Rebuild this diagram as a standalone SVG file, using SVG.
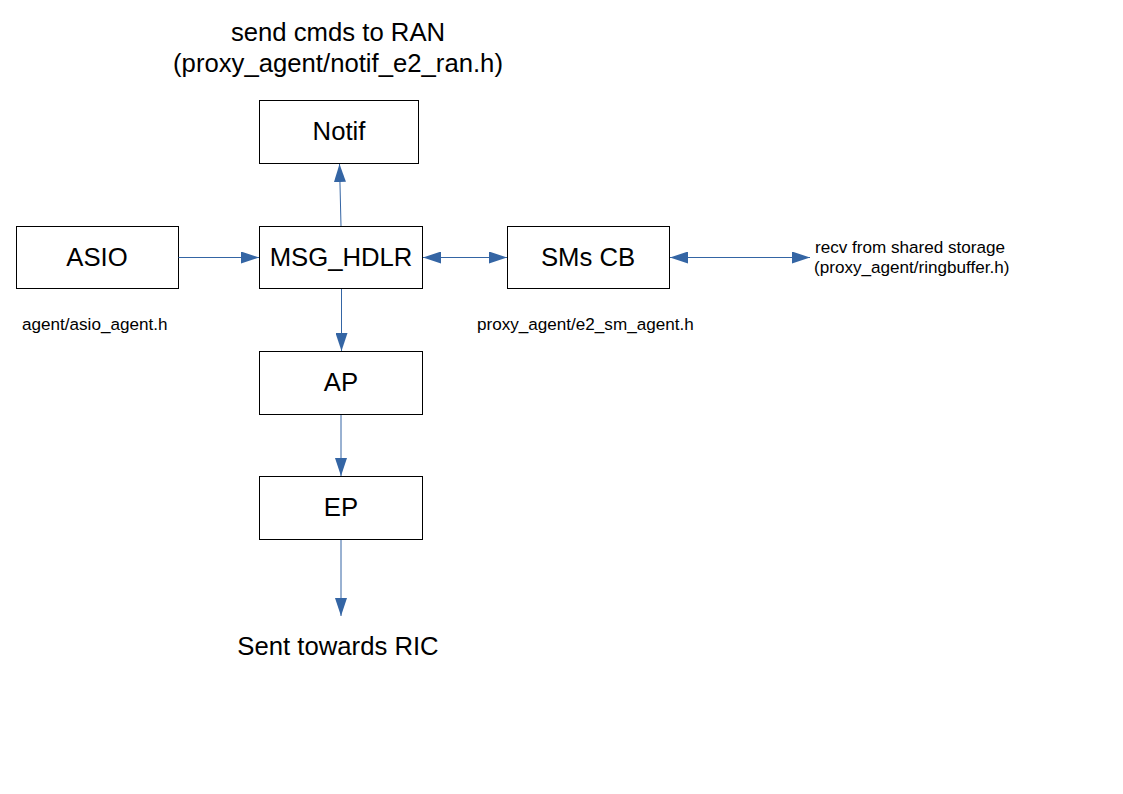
<svg xmlns="http://www.w3.org/2000/svg" width="1123" height="794" viewBox="0 0 1123 794">
<style>
.box{fill:#fff;stroke:#000;stroke-width:1}
.big{font-family:"Liberation Sans",Arial,sans-serif;font-size:25.7px;fill:#000;text-anchor:middle}
.small{font-family:"Liberation Sans",Arial,sans-serif;font-size:17.1px;fill:#000}
.con{stroke:#3465a4;stroke-width:1;fill:none}
</style>
<defs>
<marker id="ah" viewBox="0 0 18 12" refX="18" refY="6" markerWidth="18" markerHeight="12" markerUnits="userSpaceOnUse" orient="auto-start-reverse">
<path d="M0,0 L18,6 L0,12 Z" fill="#3465a4"/>
</marker>
</defs>
<rect width="1123" height="794" fill="#fff"/>
<g id="title">
<text class="big" x="338" y="41">send cmds to RAN</text>
<text class="big" x="338" y="72">(proxy_agent/notif_e2_ran.h)</text>
</g>
<g id="notif"><rect class="box" x="259.5" y="100.5" width="159" height="63"/><text class="big" x="339" y="140">Notif</text></g>
<g id="asio"><rect class="box" x="16.5" y="226.5" width="162" height="62"/><text class="big" x="97" y="266">ASIO</text></g>
<g id="msg_hdlr"><rect class="box" x="259.5" y="226.5" width="163" height="62"/><text class="big" x="341" y="266">MSG_HDLR</text></g>
<g id="smscb"><rect class="box" x="507.5" y="226.5" width="162" height="62"/><text class="big" x="588" y="266">SMs CB</text></g>
<g id="ap"><rect class="box" x="259.5" y="351.5" width="163" height="63"/><text class="big" x="341" y="391">AP</text></g>
<g id="ep"><rect class="box" x="259.5" y="476.5" width="163" height="63"/><text class="big" x="341" y="516">EP</text></g>
<g id="labels">
<text class="small" x="22" y="330">agent/asio_agent.h</text>
<text class="small" x="477" y="330">proxy_agent/e2_sm_agent.h</text>
<text class="small" x="815" y="253">recv from shared storage</text>
<text class="small" x="814" y="273">(proxy_agent/ringbuffer.h)</text>
<text class="big" x="338" y="655">Sent towards RIC</text>
</g>
<g id="connectors">
<line class="con" x1="341" y1="226" x2="339.5" y2="164" marker-end="url(#ah)"/>
<line class="con" x1="178.5" y1="257.5" x2="259" y2="257.5" marker-end="url(#ah)"/>
<line class="con" x1="423" y1="257.5" x2="507" y2="257.5" marker-start="url(#ah)" marker-end="url(#ah)"/>
<line class="con" x1="670" y1="257.5" x2="810" y2="257.5" marker-start="url(#ah)" marker-end="url(#ah)"/>
<line class="con" x1="341.5" y1="289" x2="341.5" y2="351" marker-end="url(#ah)"/>
<line class="con" x1="341" y1="415" x2="341" y2="476" marker-end="url(#ah)"/>
<line class="con" x1="341" y1="540" x2="341" y2="616" marker-end="url(#ah)"/>
</g>
</svg>
